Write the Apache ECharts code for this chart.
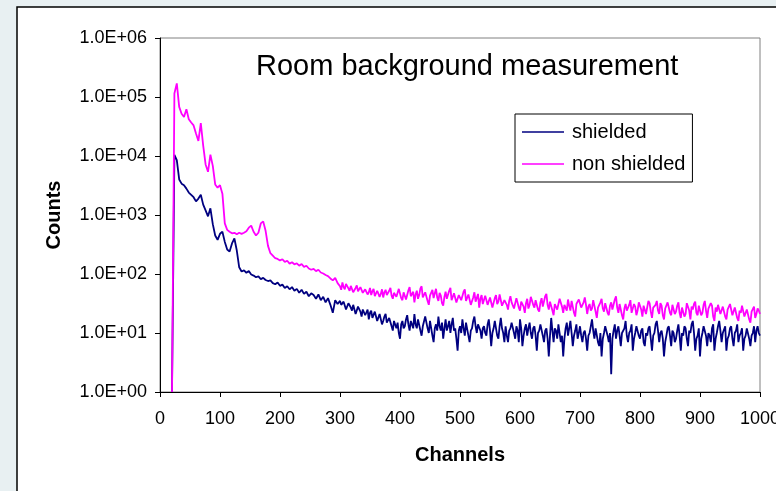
<!DOCTYPE html>
<html>
<head>
<meta charset="utf-8">
<script src="https://cdn.jsdelivr.net/npm/echarts@6/dist/echarts.min.js"></script>
<style>
  html, body { margin: 0; padding: 0; background: #e8f0f2; }
  #chart { width: 776px; height: 491px; }
</style>
</head>
<body>
<div id="chart"></div>
<script>
// Low-energy part of the spectrum: every 4 channels from channel 20 to 296
const LOW_START = 20;
const LOW_STEP = 4;
// Flat tail of the spectrum: every 2 channels from channel 300 to 1000
const TAIL_START = 300;
const TAIL_STEP = 2;

const seriesNames = ['shielded', 'non shielded'];

const shieldedLow = [
  1, 10500, 8500, 4000, 3400, 3200, 2800, 2400, 2200, 2000,
  1700, 1900, 2200, 1500, 1200, 950, 1300, 700, 450, 380,
  480, 520, 350, 260, 240, 330, 400, 250, 130, 110,
  115, 105, 112, 98, 94, 88, 91, 82, 86, 79,
  76, 78, 70, 67, 72, 63, 66, 58, 62, 55,
  60, 52, 56, 48, 54, 46, 50, 42, 47, 44,
  38, 45, 36, 41, 33, 39, 30, 22, 36, 31
];

const shieldedTail = [
  35, 30, 28, 34, 33, 25, 26, 32, 31, 27, 24, 30, 29, 21, 22, 28, 30, 23, 19, 25,
  26, 20, 21, 25, 17, 22, 24, 18, 19, 23, 22, 16, 15, 21, 20, 14, 16, 19, 21, 15,
  14, 18, 19, 13, 11, 16, 17, 12, 15, 10, 8, 14, 16, 12, 13, 17, 20, 14, 11, 16,
  15, 12, 21, 14, 12, 17, 16, 11, 9, 13, 14, 19, 18, 12, 10, 16, 15, 9, 7, 12,
  14, 11, 19, 13, 11, 15, 8, 12, 17, 11, 13, 16, 10, 14, 18, 11, 12, 8, 5, 11,
  13, 10, 17, 12, 9, 15, 14, 9, 7, 11, 12, 16, 19, 13, 10, 14, 15, 11, 8, 12,
  13, 10, 9, 14, 17, 11, 6, 10, 12, 16, 15, 9, 8, 13, 18, 12, 10, 7, 13, 9,
  7, 11, 12, 15, 16, 10, 8, 13, 11, 7, 17, 12, 6, 9, 12, 14, 9, 12, 15, 10,
  8, 12, 13, 9, 5, 10, 11, 14, 15, 9, 7, 11, 12, 8, 4, 9, 18, 11, 7, 12,
  11, 8, 14, 10, 7, 9, 4, 8, 12, 15, 9, 12, 16, 10, 6, 9, 11, 14, 8, 10,
  13, 9, 7, 10, 11, 8, 5, 9, 10, 13, 17, 11, 8, 12, 12, 7, 6, 10, 4, 8,
  10, 13, 14, 9, 7, 10, 2, 8, 11, 14, 8, 11, 13, 9, 6, 10, 10, 12, 16, 9,
  7, 10, 11, 14, 5, 8, 10, 13, 14, 9, 8, 11, 12, 7, 6, 10, 9, 12, 13, 8,
  5, 9, 10, 14, 16, 11, 7, 10, 11, 8, 4, 7, 9, 12, 13, 9, 6, 11, 10, 7,
  8, 11, 14, 9, 5, 10, 9, 13, 12, 8, 6, 11, 10, 14, 16, 10, 5, 8, 9, 12,
  4, 8, 10, 13, 13, 9, 6, 10, 9, 7, 12, 14, 5, 8, 10, 13, 16, 11, 7, 10,
  10, 13, 5, 8, 9, 12, 13, 8, 6, 10, 11, 14, 7, 9, 10, 12, 5, 8, 9, 12,
  12, 8, 6, 9, 10, 13, 7, 11, 13, 10, 9
];

const nonShieldedLow = [
  1, 115000, 170000, 68000, 52000, 46000, 62000, 42000, 37000, 33000,
  24000, 18000, 36000, 15000, 7200, 5400, 10500, 6800, 3300, 2900,
  3200, 2300, 720, 560, 520, 490, 500, 470, 500, 480,
  500, 530, 610, 660, 520, 450, 500, 720, 780, 540,
  300, 225, 205, 185, 180, 170, 178, 160, 168, 150,
  158, 146, 152, 138, 148, 132, 138, 124, 118, 122,
  112, 118, 106, 102, 96, 92, 84, 78, 86, 70
];

const nonShieldedTail = [
  62, 54, 72, 60, 55, 68, 66, 57, 52, 63, 61, 49, 50, 58, 64, 51, 53, 60, 59, 48,
  47, 55, 57, 45, 49, 58, 44, 51, 56, 42, 43, 52, 53, 41, 46, 55, 40, 49, 54, 44,
  45, 52, 58, 43, 38, 48, 50, 41, 42, 56, 55, 39, 36, 49, 47, 37, 40, 53, 60, 42,
  41, 50, 33, 45, 52, 38, 44, 57, 62, 40, 37, 49, 48, 35, 30, 43, 46, 54, 39, 47,
  56, 40, 35, 48, 43, 32, 29, 41, 50, 38, 40, 52, 58, 36, 34, 47, 45, 33, 31, 44,
  47, 36, 38, 50, 55, 35, 33, 45, 42, 30, 28, 40, 49, 34, 36, 46, 27, 38, 44, 31,
  32, 43, 46, 30, 29, 40, 38, 27, 26, 39, 44, 31, 34, 45, 48, 29, 27, 36, 37, 30,
  25, 35, 42, 33, 31, 26, 28, 39, 40, 27, 24, 34, 36, 28, 22, 32, 38, 26, 30, 41,
  44, 30, 27, 36, 35, 25, 23, 33, 39, 28, 29, 42, 46, 30, 25, 34, 33, 24, 20, 31,
  32, 25, 27, 38, 41, 28, 22, 30, 30, 24, 37, 29, 24, 35, 34, 22, 19, 31, 29, 37,
  36, 27, 25, 33, 40, 30, 21, 28, 31, 24, 26, 36, 35, 23, 18, 27, 28, 33, 38, 26,
  23, 32, 30, 22, 20, 29, 33, 25, 26, 37, 42, 27, 22, 31, 29, 20, 17, 26, 31, 24,
  25, 30, 36, 22, 21, 31, 28, 20, 24, 33, 34, 25, 19, 29, 27, 21, 22, 35, 32, 23,
  18, 27, 26, 30, 35, 24, 21, 32, 29, 20, 17, 26, 25, 33, 31, 22, 20, 30, 28, 21,
  23, 29, 33, 22, 18, 27, 26, 19, 21, 32, 30, 24, 17, 28, 25, 31, 34, 22, 20, 29,
  27, 20, 22, 30, 35, 24, 18, 26, 25, 32, 29, 19, 16, 27, 23, 30, 31, 21, 20, 28,
  26, 19, 17, 25, 24, 31, 30, 20, 19, 27, 25, 18, 16, 24, 22, 29, 28, 19, 18, 25,
  24, 17, 15, 23, 22, 28, 18, 21, 26, 24, 21
];

// Decade labels on the count axis
const countTickLabels = ['1.0E+00', '1.0E+01', '1.0E+02', '1.0E+03', '1.0E+04', '1.0E+05', '1.0E+06'];

const FONT = '"Liberation Sans", Arial, sans-serif';
const NAVY = '#000080';
const MAGENTA = '#ff00ff';

// [channel, counts] pairs for one sampled stretch of the spectrum
function toPairs(values, start, step) {
  return values.map((v, i) => [start + i * step, v]);
}

function spectrum(low, tail) {
  return toPairs(low, LOW_START, LOW_STEP).concat(toPairs(tail, TAIL_START, TAIL_STEP));
}

const chart = echarts.init(document.getElementById('chart'), null, { renderer: 'canvas' });

chart.setOption({
  backgroundColor: '#e8f0f2',
  animation: false,
  textStyle: { fontFamily: FONT },
  graphic: [
    {
      type: 'rect',
      z: -10,
      silent: true,
      shape: { x: 17, y: 7, width: 780, height: 500 },
      style: { fill: '#ffffff', stroke: '#000000', lineWidth: 1.5 }
    }
  ],
  title: {
    text: 'Room background measurement',
    left: 256,
    top: 52,
    padding: 0,
    textStyle: { fontFamily: FONT, fontSize: 29, fontWeight: 'normal', color: '#000' }
  },
  legend: {
    orient: 'vertical',
    left: 515,
    top: 114,
    padding: [8, 7, 8, 7],
    icon: 'rect',
    itemWidth: 42,
    itemHeight: 1.6,
    itemGap: 12,
    backgroundColor: '#ffffff',
    borderColor: '#000000',
    borderWidth: 1,
    borderRadius: 0,
    data: seriesNames,
    textStyle: { fontFamily: FONT, fontSize: 20, color: '#000', lineHeight: 20, padding: [0, 0, 0, 3] }
  },
  grid: {
    left: 160,
    top: 38,
    right: 16,
    bottom: 99,
    containLabel: false,
    outerBoundsMode: 'none',
    show: true,
    borderColor: '#808080',
    borderWidth: 1,
    backgroundColor: 'transparent'
  },
  xAxis: {
    type: 'value',
    min: 0,
    max: 1000,
    interval: 100,
    name: 'Channels',
    nameLocation: 'middle',
    nameGap: 53,
    nameTextStyle: { fontFamily: FONT, fontSize: 20, fontWeight: 'bold', color: '#000' },
    axisLine: { show: true, lineStyle: { color: '#000', width: 1 } },
    axisTick: { show: true, inside: false, length: 5, lineStyle: { color: '#000' } },
    axisLabel: {
      fontFamily: FONT, fontSize: 18, color: '#000', margin: 18,
      showMinLabel: true, showMaxLabel: true, hideOverlap: false,
      formatter: function (v) { return String(v); }
    },
    splitLine: { show: false }
  },
  yAxis: {
    type: 'log',
    logBase: 10,
    min: 1,
    max: 1000000,
    name: 'Counts',
    nameLocation: 'middle',
    nameGap: 96,
    nameTextStyle: { fontFamily: FONT, fontSize: 20, fontWeight: 'bold', color: '#000' },
    axisLine: { show: true, lineStyle: { color: '#000', width: 1 } },
    axisTick: { show: true, inside: false, length: 5, lineStyle: { color: '#000' } },
    axisLabel: {
      fontFamily: FONT,
      fontSize: 18,
      color: '#000',
      margin: 13,
      formatter: function (v) {
        return countTickLabels[Math.round(Math.log10(v))];
      }
    },
    splitLine: { show: false }
  },
  series: [
    {
      name: seriesNames[0],
      type: 'line',
      symbol: 'none',
      smooth: false,
      data: spectrum(shieldedLow, shieldedTail),
      lineStyle: { color: NAVY, width: 1.8 },
      itemStyle: { color: NAVY },
      z: 2
    },
    {
      name: seriesNames[1],
      type: 'line',
      symbol: 'none',
      smooth: false,
      data: spectrum(nonShieldedLow, nonShieldedTail),
      lineStyle: { color: MAGENTA, width: 1.8 },
      itemStyle: { color: MAGENTA },
      z: 3
    }
  ]
});
</script>
</body>
</html>
